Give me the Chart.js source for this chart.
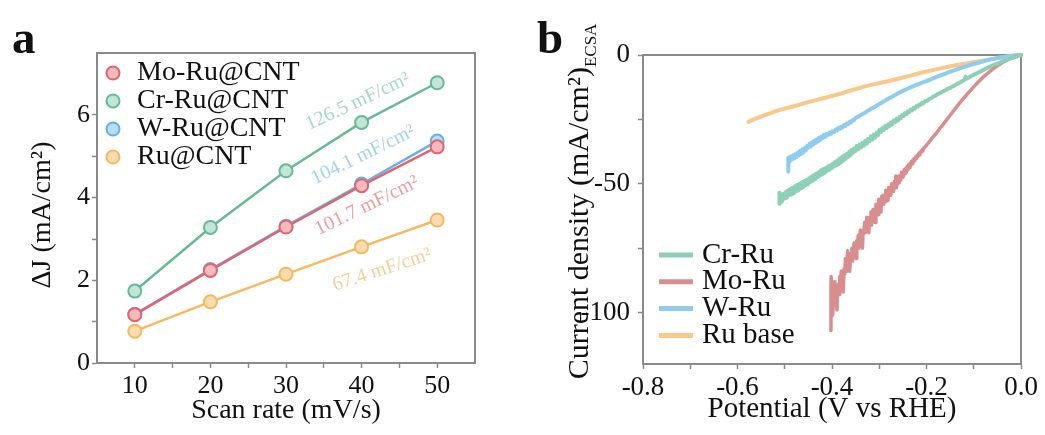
<!DOCTYPE html>
<html>
<head>
<meta charset="utf-8">
<script src="https://cdn.jsdelivr.net/npm/chart.js@4/dist/chart.umd.min.js"></script>
<style>
  html, body { margin: 0; padding: 0; background: #ffffff; }
  #wrap { position: relative; width: 1045px; height: 435px; }
  #boxA { position: absolute; left: 0; top: 0; width: 522px; height: 435px; }
  #boxB { position: absolute; left: 522px; top: 0; width: 523px; height: 435px; }
</style>
</head>
<body>
<div id="wrap">
  <div id="boxA"><canvas id="chartA" width="522" height="435"></canvas></div>
  <div id="boxB"><canvas id="chartB" width="523" height="435"></canvas></div>
</div>
<script>
// ---------- (a) charging current difference vs scan rate ----------
const scanRates = [10, 20, 30, 40, 50];
const moRuDeltaJ = [1.17, 2.24, 3.29, 4.29, 5.23];
const crRuDeltaJ = [1.74, 3.28, 4.65, 5.82, 6.78];
const wRuDeltaJ  = [1.18, 2.26, 3.31, 4.33, 5.37];
const ruDeltaJ   = [0.77, 1.48, 2.15, 2.81, 3.46];
const seriesNamesA = ['Mo-Ru@CNT', 'Cr-Ru@CNT', 'W-Ru@CNT', 'Ru@CNT'];
const capacitanceLabels = ['126.5 mF/cm²', '104.1 mF/cm²', '101.7 mF/cm²', '67.4 mF/cm²'];

// ---------- (b) ECSA-normalised polarisation curves [potential V, current mA/cm²] ----------
const seriesNamesB = ['Cr-Ru', 'Mo-Ru', 'W-Ru', 'Ru base'];

const crRuCurve = [
  [-0.5115,-53.5],[-0.5110,-57.8],[-0.5085,-55.4],[-0.5060,-57.0],[-0.5035,-54.0],[-0.5010,-55.8],
  [-0.4985,-53.3],[-0.4960,-55.5],[-0.4935,-52.6],[-0.4910,-54.4],[-0.4885,-52.0],[-0.4860,-54.2],
  [-0.4835,-51.6],[-0.4810,-53.8],[-0.4785,-51.0],[-0.4760,-52.9],[-0.4735,-50.4],[-0.4710,-52.6],
  [-0.4685,-50.0],[-0.4660,-51.8],[-0.4635,-49.4],[-0.4610,-51.3],[-0.4585,-48.9],[-0.4560,-50.6],
  [-0.4535,-48.5],[-0.4510,-50.2],[-0.4485,-47.9],[-0.4460,-49.4],[-0.4435,-47.2],[-0.4410,-48.9],
  [-0.4385,-46.7],[-0.4360,-48.3],[-0.4335,-46.1],[-0.4310,-47.5],[-0.4285,-45.5],[-0.4260,-46.9],
  [-0.4235,-44.8],[-0.4210,-46.4],[-0.4185,-44.3],[-0.4160,-45.8],[-0.4135,-43.9],[-0.4110,-45.1],
  [-0.4085,-43.2],[-0.4060,-44.6],[-0.4035,-42.8],[-0.4010,-44.0],[-0.3985,-42.2],[-0.3960,-43.4],
  [-0.3935,-41.6],[-0.3910,-42.9],[-0.3885,-41.0],[-0.3860,-42.4],[-0.3835,-40.2],[-0.3810,-41.8],
  [-0.3785,-39.5],[-0.3760,-41.0],[-0.3735,-38.9],[-0.3710,-40.3],[-0.3685,-38.4],[-0.3660,-39.6],
  [-0.3635,-37.6],[-0.3610,-39.0],[-0.3585,-36.9],[-0.3560,-38.0],[-0.3535,-36.3],[-0.3505,-37.3],
  [-0.3475,-35.4],[-0.3445,-36.6],[-0.3415,-34.8],[-0.3385,-35.9],[-0.3355,-34.1],[-0.3325,-35.2],
  [-0.3295,-33.3],[-0.3265,-34.4],[-0.3235,-32.6],[-0.3205,-33.5],[-0.3175,-31.6],[-0.3145,-32.8],
  [-0.3115,-30.9],[-0.3085,-32.0],[-0.3055,-30.2],[-0.3025,-31.2],[-0.2995,-29.0],[-0.2965,-29.9],
  [-0.2935,-28.4],[-0.2905,-29.1],[-0.2875,-27.6],[-0.2845,-28.3],[-0.2815,-27.0],[-0.2785,-27.6],
  [-0.2755,-26.2],[-0.2725,-26.9],[-0.2695,-25.5],[-0.2665,-26.1],[-0.2635,-24.8],[-0.2605,-25.4],
  [-0.2575,-24.1],[-0.2545,-24.6],[-0.2515,-23.3],[-0.2485,-23.7],[-0.2455,-22.6],[-0.2425,-23.0],
  [-0.2395,-21.9],[-0.2365,-22.2],[-0.2335,-21.2],[-0.2305,-21.5],[-0.2275,-20.5],[-0.2245,-20.8],
  [-0.2215,-19.9],[-0.2185,-20.1],[-0.2155,-19.2],[-0.2125,-19.4],[-0.2095,-18.6],[-0.2065,-18.8],
  [-0.2035,-18.0],[-0.2000,-17.9],[-0.195,-17.2],[-0.190,-16.8],[-0.185,-16.1],[-0.180,-15.7],
  [-0.175,-15.0],[-0.170,-14.7],[-0.165,-14.1],[-0.160,-13.7],[-0.155,-13.1],[-0.150,-12.8],
  [-0.145,-12.2],[-0.140,-11.8],[-0.135,-11.2],[-0.130,-10.8],[-0.125,-10.2],[-0.120,-9.7],
  [-0.117,-8.4],[-0.115,-9.2],[-0.110,-8.7],[-0.105,-8.2],[-0.100,-7.7],[-0.090,-6.8],
  [-0.080,-5.8],[-0.070,-4.9],[-0.060,-4.0],[-0.050,-3.3],[-0.040,-2.6],[-0.030,-1.9],
  [-0.020,-1.2],[-0.010,-0.6],[0,0]
];

const moRuCurve = [
  [-0.4025,-107],[-0.4022,-92],[-0.4018,-86],[-0.4000,-95],[-0.3985,-101],[-0.3970,-94],
  [-0.3955,-97],[-0.3940,-88],[-0.3925,-94],[-0.3910,-92],[-0.3895,-99],[-0.3880,-90],
  [-0.3865,-89],[-0.3850,-93],[-0.3835,-86],[-0.3820,-91],[-0.3805,-84],[-0.3790,-88],
  [-0.3775,-86],[-0.3760,-92],[-0.3745,-83],[-0.3730,-85],[-0.3715,-79],[-0.3700,-84],
  [-0.3685,-82],[-0.3670,-76],[-0.3655,-81],[-0.3640,-80],[-0.3625,-84],[-0.3610,-77],
  [-0.3595,-79],[-0.3580,-75],[-0.3565,-80],[-0.3550,-77],[-0.3535,-73],[-0.3520,-76],
  [-0.3505,-74],[-0.3490,-79],[-0.3475,-72],[-0.3460,-74],[-0.3445,-70],[-0.3430,-75],
  [-0.3415,-73],[-0.3400,-68],[-0.3385,-72],[-0.3370,-70],[-0.3355,-75],[-0.3340,-68],
  [-0.3325,-69],[-0.3310,-65],[-0.3295,-69],[-0.3280,-67],[-0.3265,-63],[-0.3250,-68],
  [-0.3235,-66],[-0.3220,-69],[-0.3205,-63],[-0.3190,-65],[-0.3175,-61],[-0.3160,-66],
  [-0.3145,-63],[-0.3130,-60],[-0.3115,-64],[-0.3100,-61],[-0.3085,-65],[-0.3070,-58],
  [-0.3055,-61],[-0.3040,-59],[-0.3025,-62],[-0.3010,-56],[-0.2995,-60],[-0.2980,-58],
  [-0.2965,-61],[-0.2950,-55],[-0.2935,-57.5],[-0.2920,-54.5],[-0.2905,-58],[-0.2890,-55],
  [-0.2875,-57],[-0.2860,-52.5],[-0.2845,-56],[-0.2830,-54],[-0.2815,-56.5],[-0.2800,-51.5],
  [-0.2785,-54],[-0.2770,-52],[-0.2755,-54.5],[-0.2740,-50],[-0.2725,-52.5],[-0.2710,-50.5],
  [-0.2695,-53],[-0.2680,-49],[-0.2665,-51],[-0.2650,-47],[-0.2635,-51.5],[-0.2620,-48.5],
  [-0.2605,-50],[-0.2590,-47],[-0.2575,-49.5],[-0.2560,-47.5],[-0.2545,-48.5],[-0.2530,-45.5],
  [-0.2515,-47.5],[-0.2500,-45.5],[-0.2485,-47],[-0.2470,-44.5],[-0.2455,-46],[-0.2440,-44],
  [-0.2425,-45.5],[-0.2410,-43.3],[-0.2395,-44.6],[-0.2380,-42.6],[-0.2365,-43.8],[-0.2350,-42.0],
  [-0.2335,-43.0],[-0.2320,-41.4],[-0.2305,-42.2],[-0.2290,-40.8],[-0.2275,-41.5],[-0.2260,-40.2],
  [-0.2245,-40.9],[-0.2230,-39.6],[-0.2215,-40.2],[-0.2200,-39.0],[-0.2185,-39.5],[-0.2170,-38.4],
  [-0.2155,-38.8],[-0.2140,-37.8],[-0.2125,-38.1],[-0.2110,-37.2],[-0.2095,-37.4],[-0.2080,-36.6],
  [-0.2065,-36.7],[-0.2050,-36.0],[-0.2030,-35.7],[-0.2000,-35.0],[-0.195,-33.9],[-0.190,-32.7],
  [-0.185,-31.6],[-0.180,-30.6],[-0.175,-29.3],[-0.170,-28.1],[-0.165,-27.0],[-0.160,-25.8],
  [-0.150,-23.4],[-0.140,-21.0],[-0.130,-18.7],[-0.120,-16.5],[-0.110,-14.4],[-0.100,-12.4],
  [-0.090,-10.4],[-0.080,-8.6],[-0.070,-7.0],[-0.060,-5.5],[-0.050,-4.2],[-0.040,-3.0],
  [-0.030,-2.0],[-0.020,-1.1],[-0.010,-0.5],[0,0]
];

const wRuCurve = [
  [-0.4925,-45.2],[-0.4925,-39.8],[-0.4900,-41.5],[-0.4875,-39.4],[-0.4850,-40.6],[-0.4825,-39.0],
  [-0.4800,-40.2],[-0.4775,-38.6],[-0.4750,-39.6],[-0.4725,-38.0],[-0.4700,-38.9],[-0.4675,-37.2],
  [-0.4650,-38.4],[-0.4625,-36.6],[-0.4600,-37.8],[-0.4575,-36.0],[-0.4550,-37.0],[-0.4525,-35.3],
  [-0.4500,-36.0],[-0.4475,-34.5],[-0.4450,-35.6],[-0.4425,-34.0],[-0.4400,-34.8],[-0.4375,-33.3],
  [-0.4350,-34.2],[-0.4325,-32.8],[-0.4300,-33.6],[-0.4275,-32.2],[-0.4250,-33.0],[-0.4225,-31.7],
  [-0.4200,-32.3],[-0.4170,-31.0],[-0.4140,-31.8],[-0.4110,-30.6],[-0.4080,-31.1],[-0.4050,-30.1],
  [-0.4020,-30.6],[-0.3990,-29.6],[-0.3960,-30.0],[-0.3930,-29.0],[-0.3900,-29.4],[-0.3870,-28.4],
  [-0.3840,-28.8],[-0.3810,-27.9],[-0.3780,-28.2],[-0.3750,-27.2],[-0.3720,-27.6],[-0.3690,-26.6],
  [-0.3660,-26.9],[-0.3630,-26.0],[-0.3600,-26.2],[-0.3570,-25.3],[-0.3540,-25.4],[-0.350,-24.4],
  [-0.345,-24.0],[-0.340,-23.4],[-0.335,-22.9],[-0.330,-22.4],[-0.325,-21.8],[-0.320,-21.2],
  [-0.315,-20.7],[-0.310,-20.2],[-0.305,-19.6],[-0.300,-19.1],[-0.295,-18.5],[-0.290,-18.0],
  [-0.285,-17.4],[-0.280,-16.9],[-0.270,-15.9],[-0.260,-14.9],[-0.250,-13.9],[-0.240,-13.1],
  [-0.230,-12.3],[-0.220,-11.5],[-0.210,-10.8],[-0.200,-10.1],[-0.190,-9.4],[-0.180,-8.6],
  [-0.170,-7.9],[-0.160,-7.2],[-0.150,-6.5],[-0.140,-5.9],[-0.130,-5.2],[-0.120,-4.6],
  [-0.110,-4.0],[-0.100,-3.5],[-0.090,-3.0],[-0.080,-2.5],[-0.070,-2.0],[-0.060,-1.6],
  [-0.050,-1.2],[-0.040,-0.9],[-0.030,-0.6],[-0.020,-0.3],[-0.010,-0.1],[0,0]
];

const ruBaseCurve = [
  [-0.577,-26.0],[-0.570,-25.3],[-0.560,-24.6],[-0.550,-23.9],[-0.540,-23.2],[-0.530,-22.6],
  [-0.520,-21.9],[-0.510,-21.3],[-0.500,-20.8],[-0.480,-19.9],[-0.460,-18.8],[-0.440,-17.8],
  [-0.425,-17.1],[-0.400,-15.9],[-0.380,-14.9],[-0.355,-13.5],[-0.330,-12.2],[-0.300,-10.9],
  [-0.284,-10.3],[-0.260,-9.2],[-0.240,-8.3],[-0.214,-7.0],[-0.200,-6.4],[-0.180,-5.6],
  [-0.160,-4.8],[-0.143,-4.2],[-0.120,-3.4],[-0.100,-2.7],[-0.073,-1.9],[-0.050,-1.2],
  [-0.030,-0.7],[-0.010,-0.2],[0,0]
];

// ---------- shared styling ----------
const SERIF = "'Liberation Serif', 'Times New Roman', 'DejaVu Serif', serif";
const INK = '#111111';
const FRAME = '#8a8a8a';
Chart.defaults.font.family = SERIF;
Chart.defaults.color = INK;

const toXY = pairs => pairs.map(p => ({ x: p[0], y: p[1] }));

// grey box around the plotting area
const plotFrame = {
  id: 'plotFrame',
  beforeDatasetsDraw(chart) {
    const { ctx, chartArea: a } = chart;
    ctx.save();
    ctx.strokeStyle = FRAME;
    ctx.lineWidth = 2;
    ctx.strokeRect(a.left, a.top, a.right - a.left, a.bottom - a.top);
    ctx.restore();
  }
};

// bold panel letter
const panelLetter = {
  id: 'panelLetter',
  afterDraw(chart, args, opts) {
    const { ctx } = chart;
    ctx.save();
    ctx.font = `bold ${opts.size}px ${SERIF}`;
    ctx.fillStyle = INK;
    ctx.textBaseline = 'alphabetic';
    ctx.fillText(opts.text, opts.x, opts.y);
    ctx.restore();
  }
};

// legend with circle markers, drawn inside the plot area
const markerLegend = {
  id: 'markerLegend',
  afterDraw(chart, args, opts) {
    const { ctx, chartArea: a } = chart;
    ctx.save();
    ctx.font = `${opts.size}px ${SERIF}`;
    ctx.textBaseline = 'middle';
    chart.data.datasets.forEach((ds, i) => {
      const x = a.left + opts.left;
      const y = a.top + opts.top + i * opts.rowGap;
      ctx.beginPath();
      ctx.arc(x, y, opts.radius, 0, Math.PI * 2);
      ctx.fillStyle = ds.pointBackgroundColor;
      ctx.fill();
      ctx.lineWidth = 2;
      ctx.strokeStyle = ds.borderColor;
      ctx.stroke();
      ctx.fillStyle = INK;
      ctx.fillText(ds.label, x + opts.textGap, y);
    });
    ctx.restore();
  }
};

// legend with short line samples
const lineLegend = {
  id: 'lineLegend',
  afterDraw(chart, args, opts) {
    const { ctx, chartArea: a } = chart;
    ctx.save();
    ctx.font = `${opts.size}px ${SERIF}`;
    ctx.textBaseline = 'middle';
    chart.data.datasets.forEach((ds, i) => {
      const x = a.left + opts.left;
      const y = a.top + opts.top + i * opts.rowGap;
      ctx.beginPath();
      ctx.moveTo(x, y);
      ctx.lineTo(x + opts.lineLen, y);
      ctx.lineWidth = 5;
      ctx.strokeStyle = ds.borderColor;
      ctx.stroke();
      ctx.fillStyle = INK;
      ctx.fillText(ds.label, x + opts.lineLen + opts.textGap, y);
    });
    ctx.restore();
  }
};

// slanted capacitance labels placed in data space
const slopeNotes = {
  id: 'slopeNotes',
  afterDatasetsDraw(chart, args, opts) {
    const { ctx, scales } = chart;
    ctx.save();
    ctx.font = `${opts.size}px ${SERIF}`;
    ctx.textAlign = 'center';
    ctx.textBaseline = 'middle';
    opts.notes.forEach(n => {
      ctx.save();
      ctx.translate(scales.x.getPixelForValue(n.x), scales.y.getPixelForValue(n.y));
      ctx.rotate(n.angle * Math.PI / 180);
      ctx.fillStyle = n.color;
      ctx.fillText(n.text, 0, 0);
      ctx.restore();
    });
    ctx.restore();
  }
};

// rotated y-axis title, optionally followed by a subscript
const sideTitle = {
  id: 'sideTitle',
  afterDraw(chart, args, opts) {
    const { ctx, chartArea: a } = chart;
    ctx.save();
    const mainFont = `${opts.size}px ${SERIF}`;
    const subFont = `${opts.subSize || opts.size}px ${SERIF}`;
    const sub = opts.sub || '';
    ctx.font = mainFont;
    const wMain = ctx.measureText(opts.main).width;
    ctx.font = subFont;
    const wSub = sub ? ctx.measureText(sub).width : 0;
    const total = wMain + wSub;
    const cy = (a.top + a.bottom) / 2 + opts.shiftY;
    ctx.translate(opts.x, cy);
    ctx.rotate(-Math.PI / 2);
    ctx.fillStyle = INK;
    ctx.textBaseline = 'alphabetic';
    ctx.textAlign = 'left';
    ctx.font = mainFont;
    ctx.fillText(opts.main, -total / 2, 0);
    if (sub) {
      ctx.font = subFont;
      ctx.fillText(sub, -total / 2 + wMain, opts.subDrop);
    }
    ctx.restore();
  }
};

const edgeTick = (hidden) => (ctx) =>
  (ctx.tick && hidden.some(h => Math.abs(ctx.tick.value - h) < 1e-9)) ? 'rgba(0,0,0,0)' : FRAME;

// ---------- chart (a) ----------
const colorsA = [
  { line: '#e2646f', fill: '#f6b9bd' },
  { line: '#66b999', fill: '#c2e5d6' },
  { line: '#62b2e8', fill: '#bbdcf5' },
  { line: '#f5b961', fill: '#fcdcae' }
];
const valuesA = [moRuDeltaJ, crRuDeltaJ, wRuDeltaJ, ruDeltaJ];

new Chart(document.getElementById('chartA'), {
  type: 'line',
  data: {
    datasets: valuesA.map((vals, i) => ({
      label: seriesNamesA[i],
      data: scanRates.map((r, k) => ({ x: r, y: vals[k] })),
      borderColor: colorsA[i].line,
      backgroundColor: colorsA[i].fill,
      pointBackgroundColor: colorsA[i].fill,
      pointBorderColor: colorsA[i].line,
      pointBorderWidth: 2,
      pointRadius: 6.5,
      borderWidth: 2.5,
      tension: 0,
      fill: false
    }))
  },
  options: {
    responsive: false,
    animation: false,
    devicePixelRatio: 1,
    layout: { padding: { top: 53, right: 47, left: 0, bottom: 0 } },
    plugins: {
      legend: { display: false },
      tooltip: { enabled: false },
      panelLetter: { text: 'a', x: 12, y: 53, size: 47 },
      markerLegend: { left: 16, top: 20, rowGap: 28, radius: 6.5, textGap: 24, size: 28 },
      sideTitle: { main: 'ΔJ (mA/cm²)', size: 28, x: 50, shiftY: 7 },
      slopeNotes: {
        size: 20,
        notes: [
          { text: capacitanceLabels[0], x: 39.5, y: 6.32, angle: -25, color: '#a6d9c5' },
          { text: capacitanceLabels[1], x: 40.2, y: 5.03, angle: -26, color: '#a3d2f2' },
          { text: capacitanceLabels[2], x: 40.7, y: 3.80, angle: -26, color: '#ee9ba2' },
          { text: capacitanceLabels[3], x: 42.7, y: 2.25, angle: -18, color: '#f8cf98' }
        ]
      }
    },
    scales: {
      x: {
        type: 'linear', min: 5, max: 55,
        afterFit: s => { s.height = 72; },
        ticks: {
          stepSize: 5, autoSkip: false, maxRotation: 0, padding: 3,
          font: { size: 26 }, color: INK,
          callback: v => (v % 10 === 0 ? String(v) : '')
        },
        grid: { drawOnChartArea: false, drawTicks: true, tickLength: 5, tickWidth: 1.5, tickColor: edgeTick([5, 55]) },
        border: { color: FRAME, width: 2 },
        title: { display: true, text: 'Scan rate (mV/s)', font: { size: 28 }, color: INK, padding: { top: 0, bottom: 8 } }
      },
      y: {
        type: 'linear', min: 0, max: 7.5,
        afterFit: s => { s.width = 97; },
        ticks: {
          stepSize: 1, autoSkip: false, padding: 2,
          font: { size: 26 }, color: INK,
          callback: v => (v % 2 === 0 ? String(v) : '')
        },
        grid: { drawOnChartArea: false, drawTicks: true, tickLength: 5, tickWidth: 1.5, tickColor: edgeTick([7.5]) },
        border: { color: FRAME, width: 2 },
        title: { display: false }
      }
    }
  },
  plugins: [plotFrame, panelLetter, markerLegend, slopeNotes, sideTitle]
});

// ---------- chart (b) ----------
const colorsB = ['#8dd0b6', '#d98e8e', '#8ecdf0', '#f9c88a'];
const widthsB = [4, 3.5, 4, 4];
const curvesB = [crRuCurve, moRuCurve, wRuCurve, ruBaseCurve];

new Chart(document.getElementById('chartB'), {
  type: 'line',
  data: {
    datasets: curvesB.map((c, i) => ({
      label: seriesNamesB[i],
      data: toXY(c),
      borderColor: colorsB[i],
      borderWidth: widthsB[i],
      pointRadius: 0,
      tension: 0,
      fill: false,
      clip: false,
      borderJoinStyle: 'round',
      borderCapStyle: 'round'
    }))
  },
  options: {
    responsive: false,
    animation: false,
    devicePixelRatio: 1,
    parsing: false,
    layout: { padding: { top: 55, right: 24, left: 0, bottom: 0 } },
    plugins: {
      legend: { display: false },
      tooltip: { enabled: false },
      panelLetter: { text: 'b', x: 15, y: 53, size: 47 },
      lineLegend: { left: 16, top: 200, rowGap: 26.8, lineLen: 34, textGap: 9, size: 29 },
      sideTitle: { main: 'Current density (mA/cm²)', sub: 'ECSA', size: 30, subSize: 17, subDrop: 8, x: 66, shiftY: -8 }
    },
    scales: {
      x: {
        type: 'linear', min: -0.8, max: 0,
        afterFit: s => { s.height = 71; },
        ticks: {
          stepSize: 0.1, autoSkip: false, maxRotation: 0, padding: 3,
          font: { size: 27 }, color: INK,
          callback: v => { const k = Math.round(v * 10); return k % 2 === 0 ? (k / 10).toFixed(1) : ''; }
        },
        grid: { drawOnChartArea: false, drawTicks: true, tickLength: 5, tickWidth: 1.5, tickColor: FRAME },
        border: { color: FRAME, width: 2 },
        title: { display: true, text: 'Potential (V vs RHE)', font: { size: 29 }, color: INK, padding: { top: 0, bottom: 8 } }
      },
      y: {
        type: 'linear', min: -120, max: 0,
        afterFit: s => { s.width = 121; },
        ticks: {
          stepSize: 25, autoSkip: false, padding: 8,
          font: { size: 27 }, color: INK,
          callback: v => (v % 50 === 0 ? String(v) : '')
        },
        grid: { drawOnChartArea: false, drawTicks: true, tickLength: 5, tickWidth: 1.5, tickColor: edgeTick([-120]) },
        border: { color: FRAME, width: 2 },
        title: { display: false }
      }
    }
  },
  plugins: [plotFrame, panelLetter, lineLegend, sideTitle]
});
</script>
</body>
</html>
